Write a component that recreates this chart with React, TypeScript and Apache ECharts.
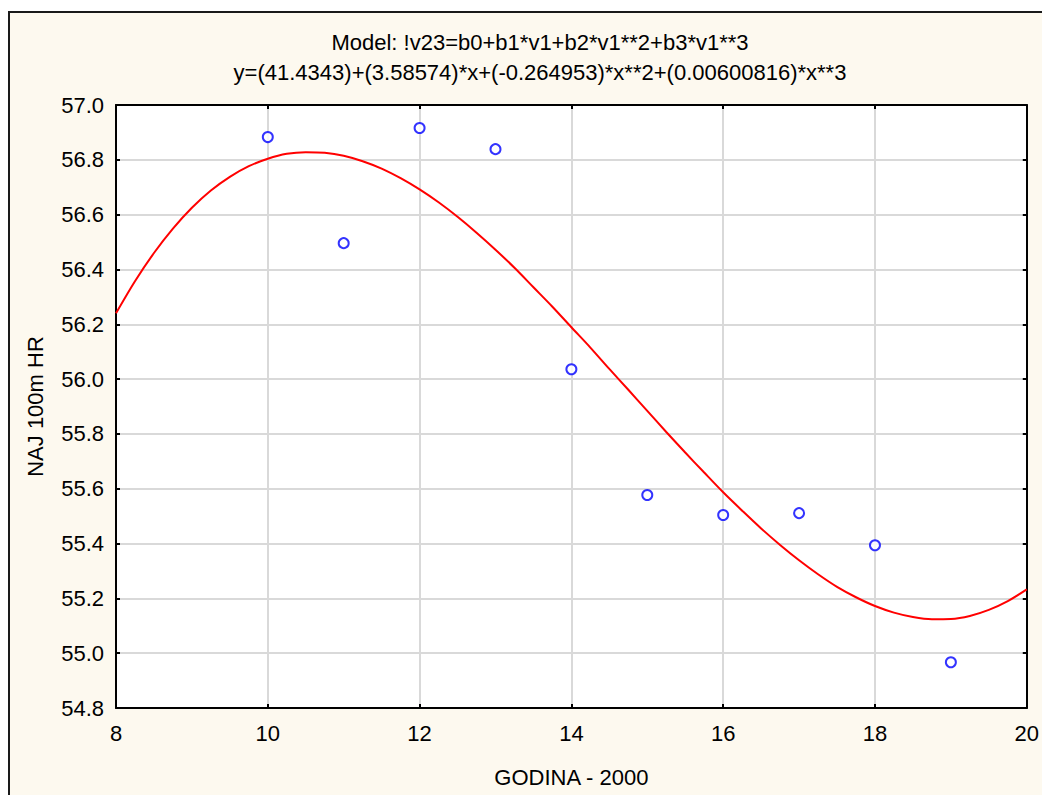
import React, { useEffect, useRef } from "react";
import * as echarts from "echarts";

const titleLine1 = "Model: !v23=b0+b1*v1+b2*v1**2+b3*v1**3";
const titleLine2 = "y=(41.4343)+(3.58574)*x+(-0.264953)*x**2+(0.00600816)*x**3";
const xName = "GODINA - 2000";
const yName = "NAJ 100m HR";

const years = [10, 11, 12, 13, 14, 15, 16, 17, 18, 19];
const times = [56.883, 56.496, 56.916, 56.839, 56.036, 55.577, 55.504, 55.511, 55.394, 54.967];

const curveX = [
  8, 8.25, 8.5, 8.75, 9, 9.25, 9.5, 9.75, 10, 10.25, 10.5, 10.75, 11, 11.25, 11.5, 11.75,
  12, 12.25, 12.5, 12.75, 13, 13.25, 13.5, 13.75, 14, 14.25, 14.5, 14.75, 15, 15.25, 15.5, 15.75,
  16, 16.25, 16.5, 16.75, 17, 17.25, 17.5, 17.75, 18, 18.25, 18.5, 18.75, 19, 19.25, 19.5, 19.75, 20,
];
const curveY = [
  56.24, 56.357, 56.46, 56.549, 56.625, 56.688, 56.738, 56.777, 56.804, 56.822, 56.828, 56.826, 56.815, 56.795, 56.768, 56.733,
  56.692, 56.645, 56.592, 56.534, 56.472, 56.406, 56.335, 56.264, 56.189, 56.115, 56.037, 55.961, 55.884, 55.807, 55.732, 55.659,
  55.587, 55.52, 55.455, 55.395, 55.339, 55.288, 55.242, 55.204, 55.172, 55.148, 55.132, 55.124, 55.125, 55.136, 55.158, 55.19, 55.233,
];

const FONT = "Liberation Sans, Arial, sans-serif";
const FS = 22;

export default function App() {
  const ref = useRef<HTMLDivElement>(null);
  useEffect(() => {
    if (!ref.current) return;
    const chart = echarts.init(ref.current, undefined, { renderer: "svg", width: 1042, height: 795 });
    const tickInside = { show: true, inside: true, length: 4, lineStyle: { color: "#000", width: 2 } };
    const axisLine = { show: true, lineStyle: { color: "#000", width: 2 } };
    const split = { show: true, lineStyle: { color: "#D9D9D9", width: 2 } };
    chart.setOption({
      animation: false,
      backgroundColor: "#FFFFFF",
      textStyle: { fontFamily: FONT },
      graphic: [
        {
          type: "rect",
          z: -10,
          shape: { x: 9, y: 12, width: 1100, height: 850 },
          style: { fill: "#FDF9EF", stroke: "#1a1a1a", lineWidth: 2 },
          silent: true,
        },
        {
          type: "text",
          x: 540,
          y: 42,
          style: { text: titleLine1, font: `${FS}px ${FONT}`, fill: "#000", textAlign: "center", textVerticalAlign: "middle" },
        },
        {
          type: "text",
          x: 540,
          y: 72,
          style: { text: titleLine2, font: `${FS}px ${FONT}`, fill: "#000", textAlign: "center", textVerticalAlign: "middle" },
        },
      ],
      grid: {
        left: 116,
        top: 105,
        width: 917,
        height: 603,
        containLabel: false,
        show: true,
        backgroundColor: "#FFFFFF",
        borderWidth: 0,
      },
      xAxis: [
        {
          type: "value",
          min: 8,
          max: 20,
          interval: 2,
          name: xName,
          nameLocation: "middle",
          nameGap: 58,
          nameTextStyle: { fontSize: FS, color: "#000", fontFamily: FONT },
          axisLine,
          axisTick: tickInside,
          axisLabel: { fontSize: FS, color: "#000", margin: 14, fontFamily: FONT },
          splitLine: split,
        },
        {
          type: "value",
          position: "top",
          min: 8,
          max: 20,
          interval: 2,
          axisLine,
          axisTick: tickInside,
          axisLabel: { show: false },
          splitLine: { show: false },
        },
      ],
      yAxis: [
        {
          type: "value",
          min: 54.8,
          max: 57.0,
          interval: 0.2,
          name: yName,
          nameLocation: "middle",
          nameGap: 70,
          nameTextStyle: { fontSize: FS, color: "#000", fontFamily: FONT },
          axisLine,
          axisTick: tickInside,
          axisLabel: {
            fontSize: FS,
            color: "#000",
            margin: 12,
            fontFamily: FONT,
            formatter: (v: number) => v.toFixed(1),
          },
          splitLine: split,
        },
        {
          type: "value",
          position: "right",
          min: 54.8,
          max: 57.0,
          interval: 0.2,
          axisLine,
          axisTick: tickInside,
          axisLabel: { show: false },
          splitLine: { show: false },
        },
      ],
      series: [
        {
          type: "line",
          data: curveX.map((x, i) => [x, curveY[i]]),
          smooth: 0.3,
          showSymbol: false,
          symbol: "none",
          lineStyle: { color: "#FF0000", width: 2 },
          z: 3,
        },
        {
          type: "scatter",
          data: years.map((x, i) => [x, times[i]]),
          symbol: "circle",
          symbolSize: 10,
          itemStyle: { color: "#FFFFFF", borderColor: "#0000FF", borderWidth: 2 },
          z: 4,
        },
      ],
    });
    return () => chart.dispose();
  }, []);
  return (
    <div
      ref={ref}
      style={{ position: "absolute", left: 0, top: 0, width: 1042, height: 795 }}
    />
  );
}
